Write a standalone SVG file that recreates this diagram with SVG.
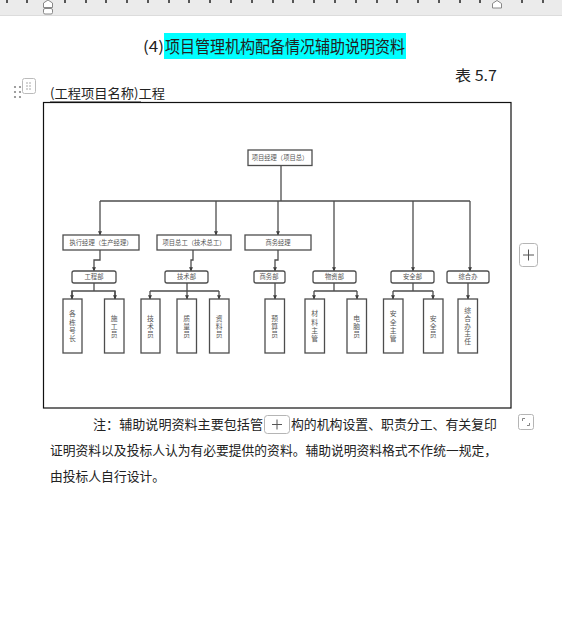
<svg xmlns="http://www.w3.org/2000/svg" width="562" height="630" viewBox="0 0 562 630">
<style>
.doc{font-family:"Noto Sans CJK SC","Liberation Sans",sans-serif;fill:#222}
.box{fill:#fff;stroke:#4d4d4d;stroke-width:1.3}
.ln{fill:none;stroke:#4d4d4d;stroke-width:1.3}
.t{font-family:"Noto Sans CJK SC",sans-serif;font-size:6.3px;fill:#555;text-anchor:middle}
.v{font-family:"Noto Sans CJK SC",sans-serif;font-size:6.8px;fill:#555;text-anchor:middle;writing-mode:vertical-rl;letter-spacing:1.5px}
.v5{letter-spacing:1px}
.tick{fill:#555}
.btn{fill:#fff;stroke:#b5b5b5;stroke-width:1}
</style>
<defs>
<marker id="ar" viewBox="0 0 6 6" refX="5.5" refY="3" markerWidth="4.2" markerHeight="4.2" orient="auto" markerUnits="userSpaceOnUse">
<path d="M0,0 L6,3 L0,6 Z" fill="#3d3d3d"/>
</marker>
</defs>
<rect width="562" height="630" fill="#fff"/>
<!-- ruler -->
<g id="ruler">
<rect x="0" y="0" width="562" height="15" fill="#ebebeb"/>
<line x1="0" y1="15.5" x2="562" y2="15.5" stroke="#dcdcdc"/>
<g class="tick">
<rect x="6" y="0" width="2" height="3"/><rect x="26" y="0" width="2" height="3"/><rect x="64" y="0" width="2" height="3"/><rect x="85" y="0" width="2" height="3"/><rect x="105" y="0" width="2" height="3"/><rect x="126" y="0" width="2" height="3"/><rect x="147" y="0" width="2" height="3"/><rect x="168" y="0" width="2" height="3"/><rect x="188" y="0" width="2" height="3"/><rect x="209" y="0" width="2" height="3"/><rect x="230" y="0" width="2" height="3"/><rect x="251" y="0" width="2" height="3"/><rect x="272" y="0" width="2" height="3"/><rect x="292" y="0" width="2" height="3"/><rect x="313" y="0" width="2" height="3"/><rect x="334" y="0" width="2" height="3"/><rect x="355" y="0" width="2" height="3"/><rect x="376" y="0" width="2" height="3"/><rect x="396" y="0" width="2" height="3"/><rect x="417" y="0" width="2" height="3"/><rect x="438" y="0" width="2" height="3"/><rect x="459" y="0" width="2" height="3"/><rect x="479" y="0" width="2" height="3"/><rect x="521" y="0" width="2" height="3"/><rect x="542" y="0" width="2" height="3"/>
</g>
<path d="M43.5,7.5 V3 L48,0 L52.5,3 V7.5 Z" fill="#fff" stroke="#888"/>
<rect x="43.5" y="8.5" width="9" height="5.5" rx="1.5" fill="#fff" stroke="#888"/>
<path d="M492.5,8 V3.5 L497,0.5 L501.5,3.5 V8 Z" fill="#fff" stroke="#888"/>
</g>
<!-- title -->
<g id="title">
<rect x="164" y="33" width="242" height="26" fill="#00ffff"/>
<text class="doc" x="143" y="52" font-size="15" textLength="21" lengthAdjust="spacingAndGlyphs">(4)</text>
<text class="doc" x="165" y="52.5" font-size="17" textLength="240" lengthAdjust="spacingAndGlyphs">项目管理机构配备情况辅助说明资料</text>
<text class="doc" x="455" y="81" font-size="15" textLength="42" lengthAdjust="spacingAndGlyphs">表 5.7</text>
<text class="doc" x="50" y="98" font-size="13" textLength="115" lengthAdjust="spacingAndGlyphs">(工程项目名称)工程</text>
<line x1="50" y1="102" x2="141" y2="102" stroke="#222" stroke-width="1"/>
</g>
<!-- table handle -->
<g id="handle" fill="#888">
<circle cx="15" cy="87" r="1.1"/><circle cx="20" cy="87" r="1.1"/>
<circle cx="15" cy="92" r="1.1"/><circle cx="20" cy="92" r="1.1"/>
<circle cx="15" cy="97" r="1.1"/><circle cx="20" cy="97" r="1.1"/>
<rect x="22.5" y="78.5" width="13" height="15" rx="2" fill="#fff" stroke="#bbb"/>
<circle cx="27" cy="83" r="0.7"/><circle cx="30" cy="83" r="0.7"/>
<circle cx="27" cy="86" r="0.7"/><circle cx="30" cy="86" r="0.7"/>
<circle cx="27" cy="89" r="0.7"/><circle cx="30" cy="89" r="0.7"/>
</g>
<!-- frame -->
<rect x="43.5" y="102.5" width="467.5" height="305.5" fill="#fff" stroke="#111" stroke-width="1.2"/>
<!-- connectors -->
<g id="connectors">
<path class="ln" d="M281,165.5 V201"/>
<path class="ln" d="M100,201 H470"/>
<path class="ln" d="M100,201 V235" marker-end="url(#ar)"/>
<path class="ln" d="M216,201 V235" marker-end="url(#ar)"/>
<path class="ln" d="M278,201 V235" marker-end="url(#ar)"/>
<path class="ln" d="M334,201 V271" marker-end="url(#ar)"/>
<path class="ln" d="M413,201 V271" marker-end="url(#ar)"/>
<path class="ln" d="M470,201 V271" marker-end="url(#ar)"/>
<path class="ln" d="M100,250 V260 H94 V271" marker-end="url(#ar)"/>
<path class="ln" d="M193,250 V260 H191 V271" marker-end="url(#ar)"/>
<path class="ln" d="M278,250 V260 H275 V271" marker-end="url(#ar)"/>
<path class="ln" d="M94,283 V291"/>
<path class="ln" d="M72,299 V291 H115 V299"/>
<path class="ln" d="M72,291 V299" marker-end="url(#ar)"/>
<path class="ln" d="M115,291 V299" marker-end="url(#ar)"/>
<path class="ln" d="M187,283 V299" marker-end="url(#ar)"/>
<path class="ln" d="M150,291 H219"/>
<path class="ln" d="M150,291 V299" marker-end="url(#ar)"/>
<path class="ln" d="M219,291 V299" marker-end="url(#ar)"/>
<path class="ln" d="M275,283 V299" marker-end="url(#ar)"/>
<path class="ln" d="M334,283 V291 M314,291 H357"/>
<path class="ln" d="M314,291 V299" marker-end="url(#ar)"/>
<path class="ln" d="M357,291 V299" marker-end="url(#ar)"/>
<path class="ln" d="M413,283 V291 M393,291 H433"/>
<path class="ln" d="M393,291 V299" marker-end="url(#ar)"/>
<path class="ln" d="M433,291 V299" marker-end="url(#ar)"/>
<path class="ln" d="M468,283 V299" marker-end="url(#ar)"/>
</g>
<!-- nodes -->
<g id="n-pm"><rect class="box" x="248" y="150" width="64" height="15.5"/><text class="t" x="280" y="160.3">项目经理（项目总）</text></g>
<g id="n-exec"><rect class="box" x="63" y="235" width="76" height="15"/><text class="t" x="101" y="245">执行经理（生产经理）</text></g>
<g id="n-chief"><rect class="box" x="157" y="235" width="74" height="15"/><text class="t" x="194" y="245">项目总工（技术总工）</text></g>
<g id="n-bizm"><rect class="box" x="245" y="235" width="66" height="15"/><text class="t" x="278" y="245">商务经理</text></g>
<g id="n-eng"><rect class="box" x="72" y="271" width="44" height="12" rx="2"/><text class="t" x="94" y="279.3">工程部</text></g>
<g id="n-tech"><rect class="box" x="165" y="271" width="43" height="12" rx="2"/><text class="t" x="186.5" y="279.3">技术部</text></g>
<g id="n-biz"><rect class="box" x="254" y="271" width="31" height="12" rx="2"/><text class="t" x="269" y="279.3">商务部</text></g>
<g id="n-mat"><rect class="box" x="313" y="271" width="43" height="12" rx="2"/><text class="t" x="334.5" y="279.3">物资部</text></g>
<g id="n-safe"><rect class="box" x="391" y="271" width="43" height="12" rx="2"/><text class="t" x="412.5" y="279.3">安全部</text></g>
<g id="n-gen"><rect class="box" x="447" y="271" width="42" height="12" rx="2"/><text class="t" x="468" y="279.3">综合办</text></g>
<g id="n-l1"><rect class="box" x="63" y="299" width="19" height="54"/><text class="v" x="72.5" y="327">各栋号长</text></g>
<g id="n-l2"><rect class="box" x="104.5" y="299" width="19.5" height="54"/><text class="v" x="114.2" y="327">施工员</text></g>
<g id="n-l3"><rect class="box" x="141" y="299" width="19" height="54"/><text class="v" x="150.5" y="327">技术员</text></g>
<g id="n-l4"><rect class="box" x="177" y="299" width="19.5" height="54"/><text class="v" x="186.7" y="327">质量员</text></g>
<g id="n-l5"><rect class="box" x="209.5" y="299" width="19.5" height="54"/><text class="v" x="219.2" y="327">资料员</text></g>
<g id="n-l6"><rect class="box" x="265" y="299" width="19.5" height="54"/><text class="v" x="274.7" y="327">预算员</text></g>
<g id="n-l7"><rect class="box" x="305" y="299" width="19.5" height="54"/><text class="v" x="314.7" y="327">材料主管</text></g>
<g id="n-l8"><rect class="box" x="347" y="299" width="19.5" height="54"/><text class="v" x="356.7" y="327">电脑员</text></g>
<g id="n-l9"><rect class="box" x="383.5" y="299" width="19.5" height="54"/><text class="v" x="393.2" y="327">安全主管</text></g>
<g id="n-l10"><rect class="box" x="423.5" y="299" width="19.5" height="54"/><text class="v" x="433.2" y="327">安全员</text></g>
<g id="n-l11"><rect class="box" x="458" y="299" width="19.5" height="54"/><text class="v v5" x="467.7" y="326.5">综合办主任</text></g>
<!-- side button -->
<g id="btn-right"><rect class="btn" x="519.5" y="243.5" width="18" height="23" rx="3"/><path d="M528.5,249.5 V260.5 M523,255 H534" stroke="#555" stroke-width="1"/></g>
<!-- note -->
<g id="note">
<text class="doc" x="93" y="429" font-size="13" textLength="170" lengthAdjust="spacingAndGlyphs">注：辅助说明资料主要包括管</text>
<rect class="btn" x="264.5" y="415.5" width="25" height="18" rx="3"/>
<path d="M277,419.5 V429.5 M272,424.5 H282" stroke="#555" stroke-width="1"/>
<text class="doc" x="291" y="429" font-size="13" textLength="206" lengthAdjust="spacingAndGlyphs">构的机构设置、职责分工、有关复印</text>
<text class="doc" x="50" y="455" font-size="13" textLength="447" lengthAdjust="spacingAndGlyphs">证明资料以及投标人认为有必要提供的资料。辅助说明资料格式不作统一规定，</text>
<text class="doc" x="50" y="481" font-size="13" textLength="115" lengthAdjust="spacingAndGlyphs">由投标人自行设计。</text>
<rect class="btn" x="518.5" y="414.5" width="15" height="15" rx="2"/>
<path d="M522.5,421 V418.5 H525 M529.5,423 V425.5 H527" fill="none" stroke="#777" stroke-width="0.9"/>
</g>
</svg>
